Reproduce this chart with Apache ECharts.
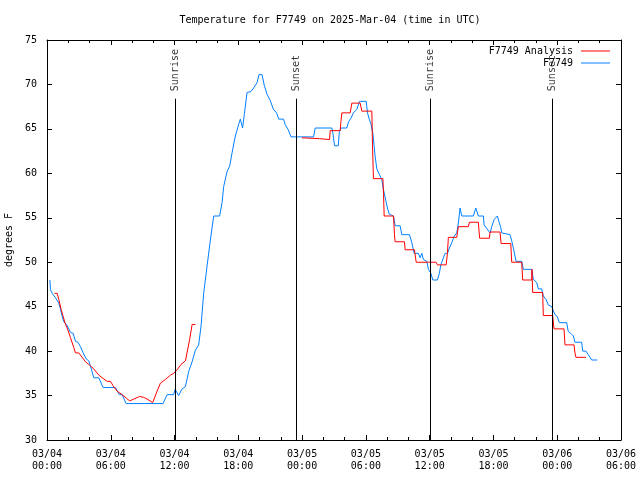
<!DOCTYPE html>
<html>
<head>
<meta charset="utf-8">
<script src="https://cdn.jsdelivr.net/npm/echarts@6/dist/echarts.min.js"></script>
<style>html,body{margin:0;padding:0;background:#fff}#chart{width:640px;height:480px}</style>
</head>
<body>
<div id="chart"></div>
<script>
// hours since 03/04 00:00 UTC, temperature in °F
const obsHours = [0.27,0.33,0.49,0.80,0.96,1.11,1.27,1.43,1.58,1.83,2.05,2.21,2.46,2.68,2.90,3.15,3.40,3.71,3.93,4.09,4.24,4.40,4.87,5.28,6.44,6.66,6.81,7.07,7.44,10.92,11.30,11.92,12.05,12.17,12.39,12.67,13.02,13.33,13.65,13.96,14.27,14.49,14.74,15.06,15.37,15.68,16.24,16.47,16.62,16.94,17.18,17.41,17.72,18.03,18.19,18.40,18.56,18.82,19.19,19.44,19.76,19.94,20.23,20.44,20.70,21.00,21.30,21.60,21.80,22.26,22.40,22.70,22.95,25.08,25.23,26.80,26.90,27.05,27.40,27.50,27.65,28.20,28.37,28.59,28.83,29.15,29.40,30.03,30.15,30.34,30.47,30.66,30.78,30.87,31.03,31.22,31.34,31.50,31.60,31.72,31.90,32.03,32.20,32.30,32.60,32.75,33.22,33.38,34.10,34.32,34.54,34.94,35.10,35.26,35.41,35.73,35.88,36.10,36.30,36.73,36.92,37.05,37.14,37.45,37.67,37.86,38.08,38.30,38.55,38.70,38.86,39.02,40.11,40.34,40.58,41.05,41.12,41.68,41.84,42.06,42.37,42.56,42.69,42.78,42.93,43.56,43.72,43.87,44.13,44.66,44.81,45.60,45.75,46.07,46.22,46.54,46.69,46.95,47.16,47.48,47.63,47.79,48.00,48.20,48.89,49.04,49.27,49.52,49.67,50.30,50.40,50.70,50.92,51.24,51.77];
const obsTemps = [48.0,46.9,46.5,46.0,45.8,45.4,44.7,43.9,43.3,43.0,42.5,42.1,42.0,41.1,41.0,40.5,39.8,39.1,38.9,38.3,37.7,37.0,37.0,35.9,35.9,35.4,35.1,35.1,34.1,34.1,35.1,35.1,35.7,35.7,35.0,35.7,36.0,37.7,38.8,40.1,40.7,42.8,46.5,49.6,52.5,55.2,55.2,56.7,58.5,60.2,60.8,62.3,64.2,65.5,66.1,65.1,66.6,69.1,69.2,69.6,70.2,71.1,71.1,69.9,68.9,68.2,67.2,66.8,66.1,66.1,65.5,64.9,64.1,64.1,65.1,65.1,64.5,63.1,63.1,64.6,65.1,65.1,65.8,66.2,66.8,67.2,68.1,68.1,66.8,66.0,65.6,64.5,63.0,61.9,60.5,60.0,59.8,59.3,58.5,57.8,56.8,56.1,55.4,55.2,55.2,54.1,54.1,53.1,53.1,52.2,51.0,51.0,50.5,51.0,50.3,50.1,49.2,48.8,48.0,48.0,48.8,49.7,50.0,51.0,51.0,51.6,52.2,52.9,53.3,54.4,56.1,55.2,55.2,56.1,55.2,55.2,54.2,53.3,54.0,54.8,55.2,54.4,53.9,53.3,53.2,53.1,52.4,51.6,50.1,50.1,49.2,49.2,48.1,47.7,47.0,47.0,46.2,45.8,45.2,45.0,45.0,44.1,43.9,43.2,43.2,42.2,42.0,41.7,41.0,41.0,40.0,40.0,39.6,39.0,39.0];

const anaHours = [0.70,0.96,1.11,1.33,1.52,1.74,1.90,2.21,2.52,2.68,2.99,3.31,3.62,3.93,4.40,4.87,5.19,5.66,5.97,6.22,6.59,7.07,7.47,7.78,8.16,8.72,9.10,9.57,9.94,10.36,10.67,11.14,11.61,11.92,12.24,12.61,13.02,13.17,13.42,13.65,13.96,19.0,23.98,25.64,26.58,26.64,27.58,27.65,27.74,28.52,28.68,29.46,29.62,30.56,30.62,30.71,31.60,31.66,31.72,32.60,32.69,32.75,33.63,33.69,34.57,34.73,35.88,35.92,36.60,36.73,37.55,37.67,37.76,38.55,38.70,39.64,39.74,40.58,40.70,41.62,41.68,42.62,42.72,43.63,43.72,44.66,44.75,45.60,45.62,45.69,46.63,46.69,47.57,47.70,48.64,48.73,49.58,49.67,49.76,50.70];
const anaTemps = [46.5,46.5,45.8,44.7,43.9,43.0,42.6,41.5,40.4,39.8,39.8,39.3,38.8,38.5,38.0,37.3,37.0,36.6,36.6,36.1,35.5,35.1,34.7,34.4,34.6,34.9,34.8,34.5,34.2,35.5,36.4,36.8,37.3,37.5,37.9,38.5,38.9,39.8,41.3,43.0,43.0,null,64.0,63.9,63.8,64.8,64.8,65.8,66.8,66.8,67.9,67.9,67.0,67.0,63.2,59.4,59.4,57.6,55.2,55.2,53.1,52.3,52.3,51.4,51.4,50.0,50.0,50.2,50.0,49.7,49.7,51.0,52.8,52.8,54.0,54.0,54.5,54.5,52.7,52.7,53.4,53.4,52.1,52.1,50.0,50.0,48.0,48.0,49.2,46.6,46.6,44.0,44.0,42.5,42.5,40.7,40.7,39.8,39.3,39.3];

const sunHours = [12.10, 23.48, 36.07, 47.55];
const sunLabels = ['Sunrise', 'Sunset', 'Sunrise', 'Sunset'];

const xTickDays = ['03/04', '03/05', '03/06'];

const FONT = 'DejaVu Sans Mono';
const pair = (xs, ys) => xs.map((x, i) => [x, ys[i]]);

function xLabel(v) {
  if (v % 6 !== 0) return '';
  const d = Math.floor(v / 24);
  const h = v % 24;
  return xTickDays[d] + '\n' + String(h).padStart(2, '0') + ':00';
}

const axisCommon = {
  type: 'value',
  axisLine: { show: true, onZero: false, lineStyle: { color: '#000', width: 1 } },
  axisTick: { show: true, inside: true, length: 5, lineStyle: { color: '#000', width: 1 } },
  splitLine: { show: false }
};

const chart = echarts.init(document.getElementById('chart'), null, { renderer: 'canvas' });
chart.setOption({
  animation: false,
  backgroundColor: '#fff',
  title: {
    text: 'Temperature for F7749 on 2025-Mar-04 (time in UTC)',
    left: 330, top: 15, textAlign: 'center', padding: 0,
    textStyle: { fontFamily: FONT, fontSize: 10, fontWeight: 'normal', color: '#000' }
  },
  legend: [
    { data: ['F7749 Analysis'], right: 30, top: 46, padding: 0, orient: 'vertical', align: 'right', icon: 'rect',
      itemWidth: 29, itemHeight: 1, textStyle: { fontFamily: FONT, fontSize: 10, color: '#000', padding: [0, 3, 0, 0] } },
    { data: ['F7749'], right: 30, top: 58, padding: 0, orient: 'vertical', align: 'right', icon: 'rect',
      itemWidth: 29, itemHeight: 1, textStyle: { fontFamily: FONT, fontSize: 10, color: '#000', padding: [0, 3, 0, 0] } }
  ],
  grid: { left: 47, right: 19, top: 40, bottom: 40, containLabel: false, outerBoundsMode: 'none' },
  xAxis: [
    Object.assign({}, axisCommon, {
      min: 0, max: 54, interval: 6, position: 'bottom',
      minorTick: { show: true, splitNumber: 3, length: 3, lineStyle: { color: '#000' } },
      axisLabel: { formatter: xLabel, fontFamily: FONT, fontSize: 10, color: '#000', margin: 8, lineHeight: 12 }
    }),
    Object.assign({}, axisCommon, {
      min: 0, max: 54, interval: 6, position: 'top',
      minorTick: { show: true, splitNumber: 3, length: 3, lineStyle: { color: '#000' } },
      axisLabel: { show: false }
    })
  ],
  yAxis: [
    Object.assign({}, axisCommon, {
      min: 30, max: 75, interval: 5, position: 'left',
      name: 'degrees F', nameLocation: 'middle', nameGap: 33, nameRotate: 90,
      nameTextStyle: { fontFamily: FONT, fontSize: 10, color: '#000' },
      axisLabel: { fontFamily: FONT, fontSize: 10, color: '#000', margin: 10 }
    }),
    Object.assign({}, axisCommon, {
      min: 30, max: 75, interval: 5, position: 'right',
      axisLabel: { show: false }
    })
  ],
  series: [
    {
      name: 'F7749 Analysis', type: 'line', data: pair(anaHours, anaTemps),
      showSymbol: false, symbol: 'none', connectNulls: false,
      lineStyle: { color: '#ff0000', width: 1 }, itemStyle: { color: '#ff0000' }, z: 3
    },
    {
      name: 'F7749', type: 'line', data: pair(obsHours, obsTemps),
      showSymbol: false, symbol: 'none',
      lineStyle: { color: '#0080ff', width: 1 }, itemStyle: { color: '#0080ff' }, z: 2
    },
    {
      name: 'sun', type: 'scatter', symbolSize: 1, itemStyle: { color: 'transparent' },
      data: sunHours.map((h, i) => ({ value: [h, 68.4], name: sunLabels[i] })),
      label: {
        show: true, position: 'top', distance: 7, rotate: 90, align: 'left', verticalAlign: 'middle',
        formatter: p => p.name, fontFamily: FONT, fontSize: 10, color: '#000'
      },
      markLine: {
        silent: true, symbol: ['none', 'none'], label: { show: false },
        lineStyle: { color: '#000', width: 1, type: 'solid' },
        data: sunHours.map(h => [{ coord: [h, 30] }, { coord: [h, 68.4] }])
      },
      silent: true
    }
  ]
});
</script>
</body>
</html>
